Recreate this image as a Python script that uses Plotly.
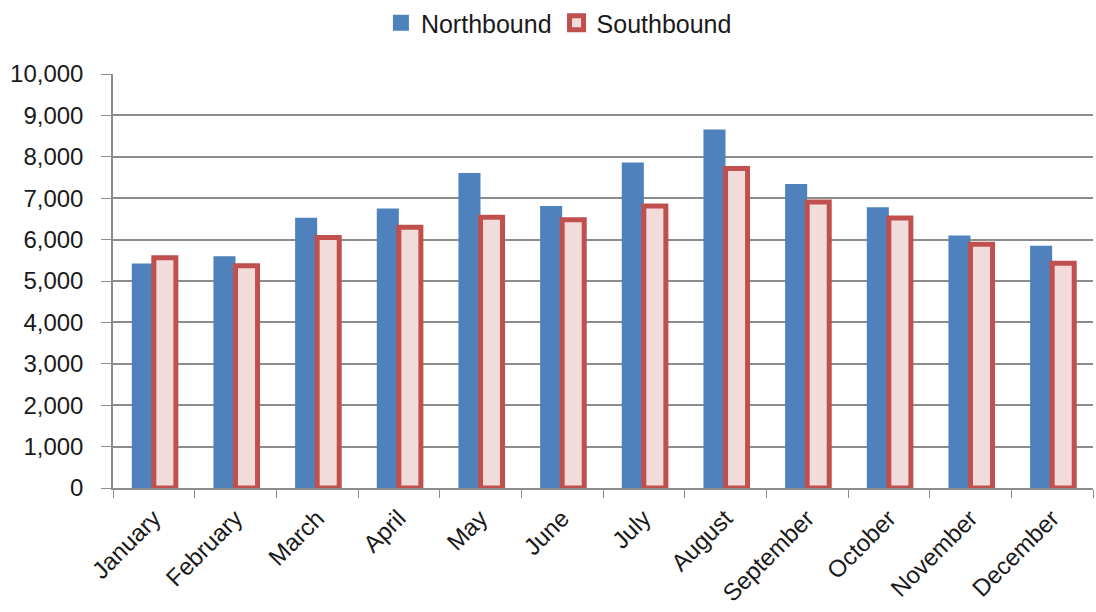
import plotly.graph_objects as go

months = ["January", "February", "March", "April", "May", "June", "July",
          "August", "September", "October", "November", "December"]
northbound = [5420, 5600, 6530, 6750, 7610, 6810, 7860, 8660, 7340, 6780, 6100, 5850]
southbound = [5560, 5370, 6050, 6300, 6540, 6480, 6810, 7720, 6910, 6520, 5890, 5430]
y_ticks = list(range(0, 10001, 1000))

BLUE = "#4F81BD"
RED = "#C0504D"
PINK = "#F2DCDB"

fig = go.Figure()
fig.add_trace(go.Bar(x=months, y=northbound, name="Northbound", showlegend=False,
                     marker=dict(color=BLUE, line=dict(width=0))))
fig.add_trace(go.Bar(x=months, y=southbound, name="Southbound", showlegend=False,
                     marker=dict(color=PINK, line=dict(color=RED, width=5))))
# legend entries
fig.add_trace(go.Scatter(x=[None], y=[None], mode="markers", name="Northbound",
                         marker=dict(symbol="square", size=17, color=BLUE,
                                     line=dict(width=0))))
fig.add_trace(go.Scatter(x=[None], y=[None], mode="markers", name="Southbound",
                         marker=dict(symbol="square", size=14, color=PINK,
                                     line=dict(color=RED, width=5))))

fig.update_layout(
    width=1096, height=612,
    margin=dict(l=113, r=3, t=74, b=124),
    paper_bgcolor="white", plot_bgcolor="white",
    barmode="group", bargap=0.46, bargroupgap=0,
    font=dict(family="Liberation Sans, Arial, sans-serif", size=24, color="#1a1a1a"),
    legend=dict(orientation="h", x=0.455, xanchor="center", y=1.0, yanchor="top",
                yref="container", font=dict(size=25), traceorder="normal",
                itemwidth=30, tracegroupgap=0),
    showlegend=True,
)
fig.update_xaxes(showline=True, linecolor="#8c8c8c", linewidth=1.5, ticks="outside",
                 tickson="boundaries", ticklen=8, tickcolor="#8c8c8c", tickangle=-45,
                 showgrid=False, tickfont=dict(size=24), ticklabelstandoff=5,
                 automargin=False)
fig.update_yaxes(range=[0, 10000], tickvals=y_ticks, tickformat=",", showline=True,
                 linecolor="#8c8c8c", linewidth=1.5, ticks="outside", ticklen=10,
                 tickcolor="#8c8c8c", showgrid=True, gridcolor="#8c8c8c", gridwidth=1.5,
                 zeroline=False, tickfont=dict(size=24), ticklabelstandoff=13,
                 automargin=False)

fig.write_html("out.html")
